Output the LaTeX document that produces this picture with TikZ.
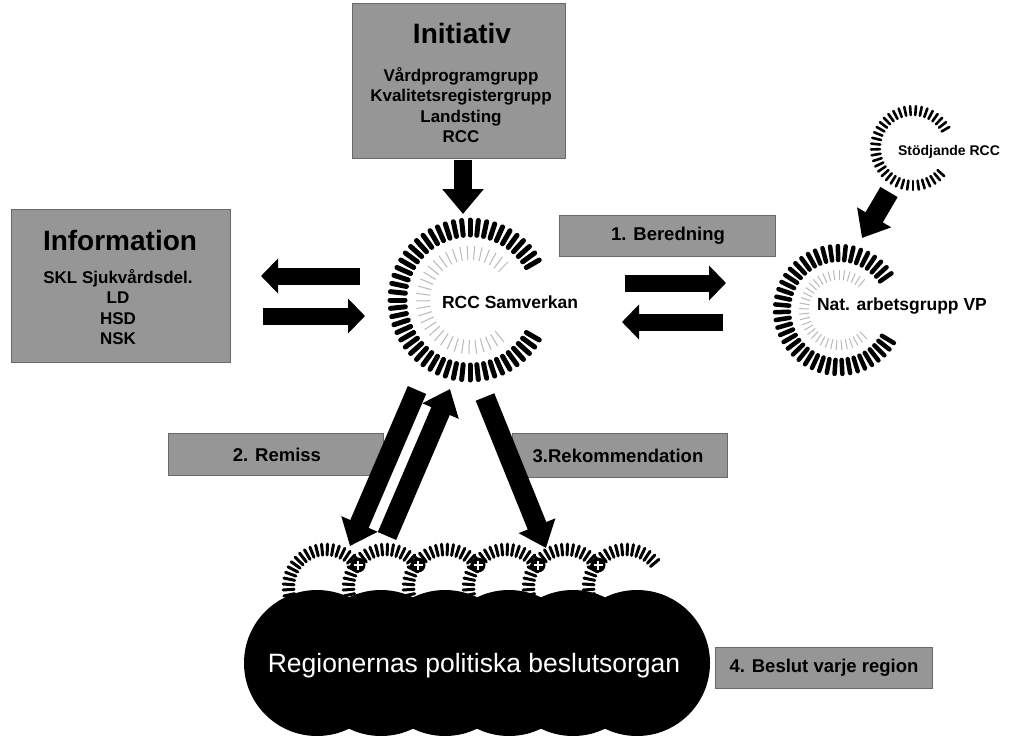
\documentclass[tikz,border=0pt]{standalone}
\usepackage{fontspec}
\setmainfont{Liberation Sans}
\usetikzlibrary{arrows.meta,calc}
\definecolor{boxgray}{RGB}{150,150,150}
\definecolor{boxedge}{RGB}{105,105,105}
\newcommand\dashring[7]{\foreach \a in {#4,#5,...,#6}{\draw[#7] ($(#1)+(\a:#2pt)$) -- ($(#1)+(\a:#3pt)$);}}
\tikzset{
  every node/.style={inner sep=0pt, outer sep=0pt},
  graybox/.style={rectangle, draw=boxedge, line width=1pt, fill=boxgray},
  titletxt/.style={font=\fontsize{28}{30}\selectfont\bfseries},
  listtxt/.style={font=\fontsize{17}{20.5}\selectfont\bfseries, align=center},
  lbltxt/.style={font=\fontsize{18.5}{20}\selectfont\bfseries},
  circtxt/.style={font=\fontsize{17.5}{20}\selectfont\bfseries, anchor=west},
  blkarrow/.style={line width=17pt, -{Triangle[width=34pt,length=17pt]}},
  bigarrow/.style={line width=20pt, -{Triangle[width=38pt,length=24pt]}},
  rccdash/.style={line width=5pt, line cap=round},
  natdash/.style={line width=4.5pt, line cap=round},
  stoddash/.style={line width=2.6pt, line cap=round},
  smalldash/.style={line width=3pt, line cap=round},
  faintdash/.style={draw=gray!55, line width=1pt},
}
\begin{document}
\begin{tikzpicture}[x=1pt,y=-1pt]
\useasboundingbox[fill=white] (0,0) rectangle (1009,742);

% --- boxes ---
\node[graybox, minimum width=213pt, minimum height=155pt] (init) at (458.5,80.5) {};
\node[titletxt] (initT) at (462,33) {Initiativ};
\node[listtxt] (initL) at (461,105) {Vårdprogramgrupp\\Kvalitetsregistergrupp\\Landsting\\RCC};

\node[graybox, minimum width=219pt, minimum height=153pt] (info) at (120.5,285.5) {};
\node[titletxt] (infoT) at (120,240) {Information};
\node[listtxt] (infoL) at (118,307) {SKL Sjukvårdsdel.\\LD\\HSD\\NSK};

\node[graybox, minimum width=216pt, minimum height=41pt] (bered) at (667,235.5) {};
\node[lbltxt] (beredT) at (668,236) {1. Beredning};
\node[graybox, minimum width=215pt, minimum height=42pt] (remiss) at (275.5,454) {};
\node[lbltxt] (remissT) at (277,455) {2. Remiss};
\node[graybox, minimum width=215pt, minimum height=44pt] (rekom) at (619.5,455) {};
\node[lbltxt] (rekomT) at (618,456) {3.Rekommendation};
\node[graybox, minimum width=217pt, minimum height=41pt] (beslut) at (823.5,667.5) {};
\node[lbltxt] (beslutT) at (824,668) {4. Beslut varje region};

% --- RCC Samverkan ring ---
\node[circle, minimum size=166pt] (rcc) at (470,300) {};
\dashring{470,300}{65}{80}{30}{36}{330}{rccdash}
\dashring{470,300}{40}{54}{45}{53}{315}{faintdash}
\node[circtxt] (rccT) at (442,302) {RCC Samverkan};

% --- Nat. arbetsgrupp ring ---
\node[circle, minimum size=134pt] (nat) at (839,310) {};
\dashring{839,310}{50}{64}{35}{42}{330}{natdash}
\dashring{839,310}{30}{40}{50}{58}{320}{faintdash}
\node[circtxt] (natT) at (817,306) {Nat. arbetsgrupp VP};

% --- Stödjande RCC ring ---
\node[circle, minimum size=86pt] (stod) at (913,148) {};
\dashring{913,148}{33}{42}{30}{38}{320}{stoddash}
\node[circtxt, font=\fontsize{14}{16}\selectfont\bfseries] (stodT) at (898,152) {Stödjande RCC};

% --- regional rings ---
\foreach \i in {0,...,5}{\dashring{{326+60*\i},587}{32}{43}{40}{48}{320}{smalldash}}
\foreach \i in {0,...,4}{
  \node[circle, fill=black, minimum size=15pt] (icon\i) at ({358+60*\i},565) {};
  \draw[white, line width=1.6pt] ($(icon\i)+(-4.5pt,0)$) -- ($(icon\i)+(4.5pt,0)$);
  \draw[white, line width=1.6pt] ($(icon\i)+(0,-4.5pt)$) -- ($(icon\i)+(0,4.5pt)$);
}
% --- decision bodies ---
\foreach \i in {0,...,5}{\fill[black] ({317+64*\i},663) circle (73pt);}
\node[text=white, font=\fontsize{26.5}{28}\selectfont] (reg) at (474,666) {Regionernas politiska beslutsorgan};

% --- arrow end points ---
\coordinate (i1) at (463,160); \coordinate (i2) at (463,214);
\coordinate (l1a) at (360,276); \coordinate (l1b) at (261,276);
\coordinate (l2a) at (263,316); \coordinate (l2b) at (365,316);
\coordinate (r1a) at (625,283); \coordinate (r1b) at (726,283);
\coordinate (r2a) at (723,322); \coordinate (r2b) at (622,322);
\coordinate (d1a) at (417,390); \coordinate (d1b) at (350,546);
\coordinate (d2a) at (387,536); \coordinate (d2b) at (450,389);
\coordinate (d3a) at (485,397); \coordinate (d3b) at (546,548);
\coordinate (s1) at (889,192); \coordinate (s2) at (862,238);

\draw[line width=18pt, -{Triangle[width=40pt,length=25pt]}] (i1) -- (i2);
\draw[blkarrow] (l1a) -- (l1b);
\draw[blkarrow] (l2a) -- (l2b);
\draw[blkarrow] (r1a) -- (r1b);
\draw[blkarrow] (r2a) -- (r2b);
\draw[bigarrow] (d1a) -- (d1b);
\draw[bigarrow] (d2a) -- (d2b);
\draw[bigarrow] (d3a) -- (d3b);
\draw[bigarrow] (s1) -- (s2);
\end{tikzpicture}
\end{document}
